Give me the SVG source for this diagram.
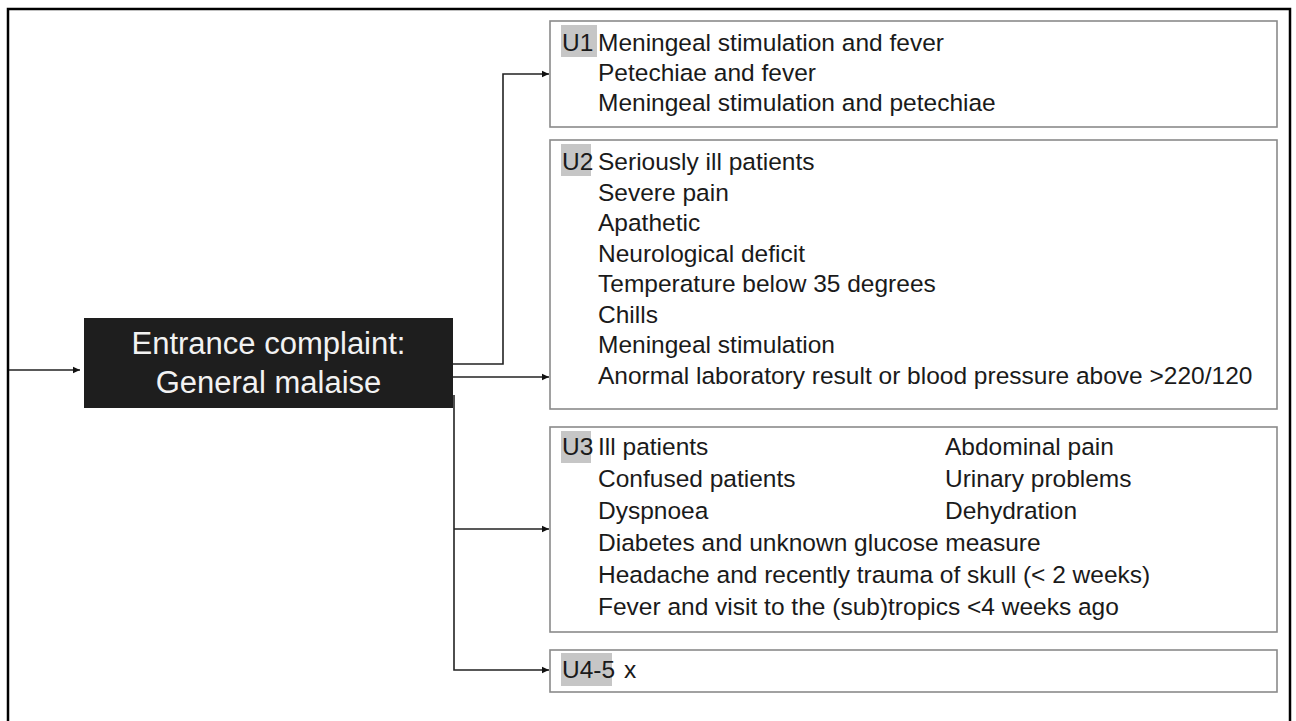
<svg xmlns="http://www.w3.org/2000/svg" width="1296" height="721" viewBox="0 0 1296 721">
<defs>
<marker id="arr" markerWidth="8" markerHeight="8" refX="7" refY="4" orient="auto" markerUnits="userSpaceOnUse">
<path d="M0,0.8 L7,4 L0,7.2 Z" fill="#111"/>
</marker>
<style>
.box{fill:#fff;stroke:#8a8a8a;stroke-width:1.6}
.hl{fill:#c6c6c6}
.t{font-family:"Liberation Sans",Arial,sans-serif;font-size:24.5px;fill:#1a1a1a}
.w{font-family:"Liberation Sans",Arial,sans-serif;font-size:31px;fill:#f2f2f2;text-anchor:middle}
.c{fill:none;stroke:#222;stroke-width:1.6}
</style>
</defs>
<rect width="1296" height="721" fill="#fff"/>
<rect x="8" y="9" width="1282" height="730" fill="none" stroke="#000" stroke-width="2.5"/>

<g id="connectors">
<path class="c" d="M9,370 H80" marker-end="url(#arr)"/>
<path class="c" d="M453,364 H503 V74 H549" marker-end="url(#arr)"/>
<path class="c" d="M453,377 H549" marker-end="url(#arr)"/>
<path class="c" d="M454,395 V670 H549" marker-end="url(#arr)"/>
<path class="c" d="M454,529 H549" marker-end="url(#arr)"/>
</g>

<g id="entrance">
<rect x="84" y="318" width="369" height="90" fill="#1e1e1e"/>
<text class="w" x="268.5" y="354">Entrance complaint:</text>
<text class="w" x="268.5" y="393">General malaise</text>
</g>

<g id="u1">
<rect class="box" x="550" y="21" width="727" height="106"/>
<rect class="hl" x="561" y="25" width="36" height="32"/>
<text class="t" x="562" y="51">U1</text>
<text class="t" x="598" y="51">Meningeal stimulation and fever</text>
<text class="t" x="598" y="81">Petechiae and fever</text>
<text class="t" x="598" y="111">Meningeal stimulation and petechiae</text>
</g>

<g id="u2">
<rect class="box" x="550" y="140" width="727" height="269"/>
<rect class="hl" x="561" y="144" width="30" height="32"/>
<text class="t" x="562" y="170">U2</text>
<text class="t" x="598" y="170">Seriously ill patients</text>
<text class="t" x="598" y="200.5">Severe pain</text>
<text class="t" x="598" y="231">Apathetic</text>
<text class="t" x="598" y="261.5">Neurological deficit</text>
<text class="t" x="598" y="292">Temperature below 35 degrees</text>
<text class="t" x="598" y="322.5">Chills</text>
<text class="t" x="598" y="353">Meningeal stimulation</text>
<text class="t" x="598" y="383.5">Anormal laboratory result or blood pressure above &gt;220/120</text>
</g>

<g id="u3">
<rect class="box" x="550" y="427" width="727" height="205"/>
<rect class="hl" x="561" y="431" width="30" height="32"/>
<text class="t" x="562" y="455">U3</text>
<text class="t" x="598" y="455">Ill patients</text>
<text class="t" x="945" y="455">Abdominal pain</text>
<text class="t" x="598" y="487">Confused patients</text>
<text class="t" x="945" y="487">Urinary problems</text>
<text class="t" x="598" y="519">Dyspnoea</text>
<text class="t" x="945" y="519">Dehydration</text>
<text class="t" x="598" y="551">Diabetes and unknown glucose measure</text>
<text class="t" x="598" y="583">Headache and recently trauma of skull (&lt; 2 weeks)</text>
<text class="t" x="598" y="615">Fever and visit to the (sub)tropics &lt;4 weeks ago</text>
</g>

<g id="u45">
<rect class="box" x="550" y="650" width="727" height="42"/>
<rect class="hl" x="561" y="653" width="51" height="33"/>
<text class="t" x="562" y="678">U4-5</text>
<text class="t" x="624" y="678">x</text>
</g>
</svg>
